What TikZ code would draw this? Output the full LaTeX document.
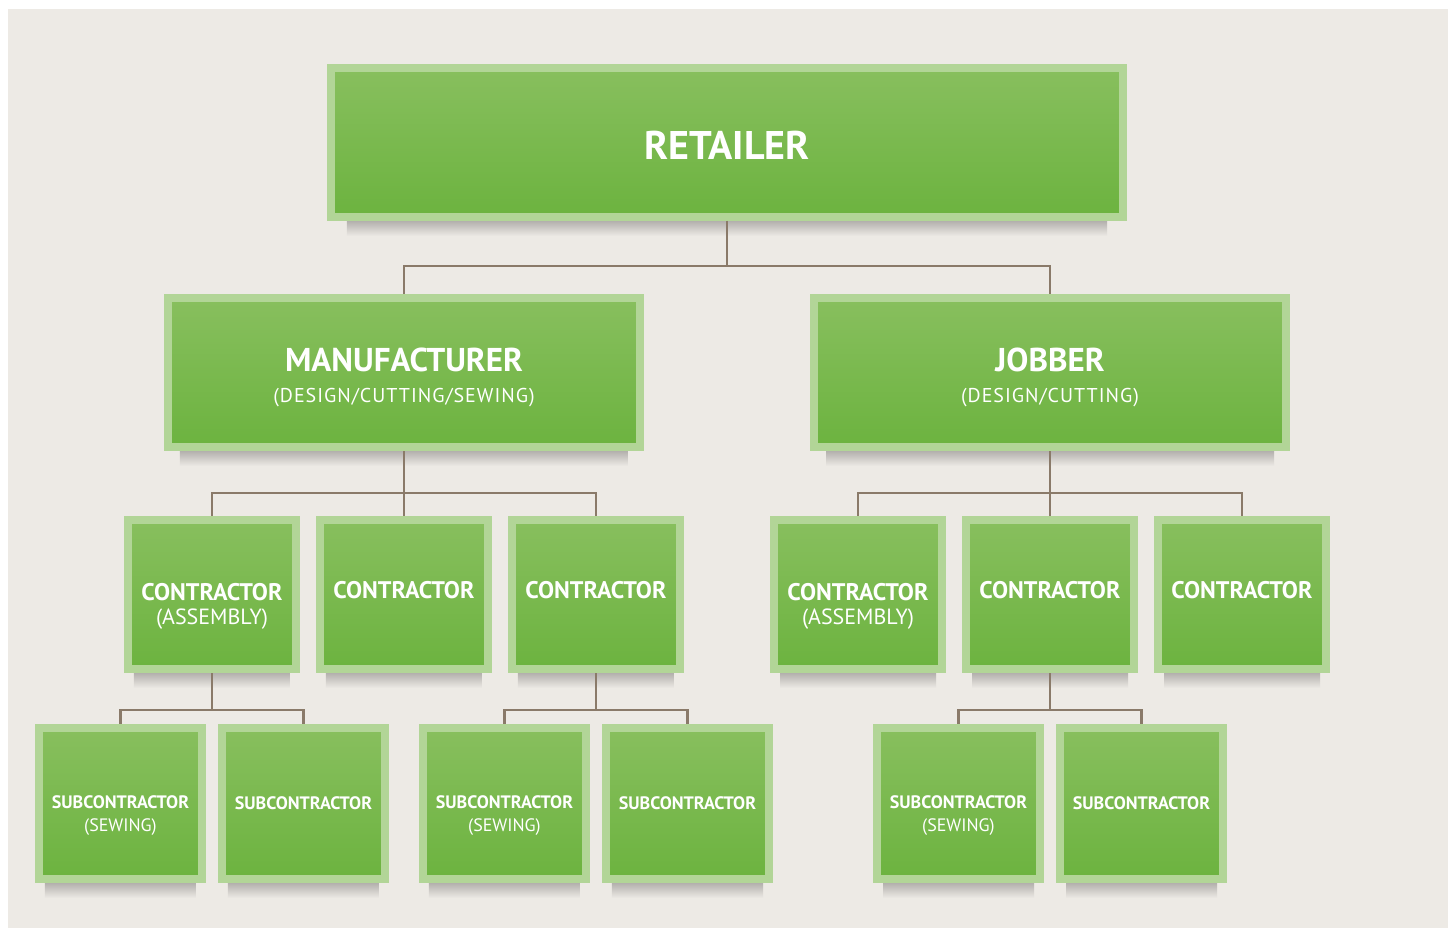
\documentclass[tikz,border=0pt]{standalone}
\usepackage{fontspec}
\setmainfont{PT Sans}
\definecolor{bgcol}{HTML}{EDEAE5}
\definecolor{boxedge}{HTML}{B2D597}
\definecolor{boxtop}{HTML}{88BF5E}
\definecolor{boxbot}{HTML}{6CB33F}
\definecolor{linkcol}{HTML}{8A7A69}
\definecolor{shadecol}{HTML}{B3B0AD}
\pgfdeclarelayer{back}
\pgfdeclarelayer{shade}
\pgfsetlayers{back,shade,main}
\begin{document}
\begin{tikzpicture}[
  box/.style={rectangle, draw=boxedge, line width=8pt, top color=boxtop, bottom color=boxbot,
    text=white, align=center, inner sep=0pt},
  big/.style={box, minimum width=792pt, minimum height=149pt},
  mid/.style={box, minimum width=472pt, minimum height=149pt},
  small/.style={box, minimum width=168pt, minimum height=149pt},
  tiny/.style={box, minimum width=163pt, minimum height=151pt},
  head/.style={font=\fontsize{33}{36}\selectfont\bfseries},
  sub/.style={font=\fontsize{24}{25}\selectfont\bfseries},
  subsub/.style={font=\fontsize{18}{23}\selectfont\bfseries},
  edge from parent/.style={draw=linkcol, line width=2.8pt},
  level 1/.style={sibling distance=646pt, level distance=230pt,
    edge from parent path={(\tikzparentnode.south) -- ++(0,-45pt) -| (\tikzchildnode.north)}},
  level 2/.style={sibling distance=192pt, level distance=222pt,
    edge from parent path={(\tikzparentnode.south) -- ++(0,-42pt) -| (\tikzchildnode.north)}},
  level 3/.style={sibling distance=183pt, level distance=209pt,
    edge from parent path={(\tikzparentnode.south) -- ++(0,-37pt) -| (\tikzchildnode.north)}}]
\useasboundingbox (-727pt,142.5pt) rectangle (721pt,-785.5pt);
\node [big, font=\fontsize{40}{44}\selectfont\bfseries] (r) {\rule{0pt}{35pt}RETAILER}
  child {node [mid, head] (m) {\rule{0pt}{34pt}MANUFACTURER\\[-5pt]{\fontsize{20}{24}\selectfont\mdseries\addfontfeature{LetterSpace=5}(DESIGN/CUTTING/SEWING)}}
    child {node [small, sub] (m1) {\rule{0pt}{40pt}CONTRACTOR\\[-1pt]{\fontsize{22}{25}\selectfont\mdseries (ASSEMBLY)}}
      child {node [tiny, subsub] (s1) {\rule{0pt}{37pt}SUBCONTRACTOR\\{\mdseries (SEWING)}}}
      child {node [tiny, subsub] (s2) {SUBCONTRACTOR}}
    }
    child {node [small, sub] (m2) {\rule[-10pt]{0pt}{10pt}CONTRACTOR}}
    child {node [small, sub] (m3) {\rule[-10pt]{0pt}{10pt}CONTRACTOR}
      child {node [tiny, subsub] (s3) {\rule{0pt}{37pt}SUBCONTRACTOR\\{\mdseries (SEWING)}}}
      child {node [tiny, subsub] (s4) {SUBCONTRACTOR}}
    }
  }
  child {node [mid, head] (j) {\rule{0pt}{34pt}JOBBER\\[-5pt]{\fontsize{20}{24}\selectfont\mdseries\addfontfeature{LetterSpace=5}(DESIGN/CUTTING)}}
    child {node [small, sub] (j1) {\rule{0pt}{40pt}CONTRACTOR\\[-1pt]{\fontsize{22}{25}\selectfont\mdseries (ASSEMBLY)}}}
    child {node [small, sub] (j2) {\rule[-10pt]{0pt}{10pt}CONTRACTOR}
      child {node [tiny, subsub] (s5) {\rule{0pt}{37pt}SUBCONTRACTOR\\{\mdseries (SEWING)}}}
      child {node [tiny, subsub] (s6) {SUBCONTRACTOR}}
    }
    child {node [small, sub] (j3) {\rule[-10pt]{0pt}{10pt}CONTRACTOR}}
  };
\begin{pgfonlayer}{shade}
\foreach \n/\d in {r/20,m/16,j/16,m1/10,m2/10,m3/10,j1/10,j2/10,j3/10,s1/10,s2/10,s3/10,s4/10,s5/10,s6/10}
  \shade[top color=shadecol, bottom color=bgcol] ([xshift=\d pt]\n.south west) rectangle ([xshift=-\d pt,yshift=-15pt]\n.south east);
\end{pgfonlayer}
\begin{pgfonlayer}{back}
\fill[bgcol] (-719pt,133.5pt) rectangle (721pt,-785.5pt);
\end{pgfonlayer}
\end{tikzpicture}
\end{document}
